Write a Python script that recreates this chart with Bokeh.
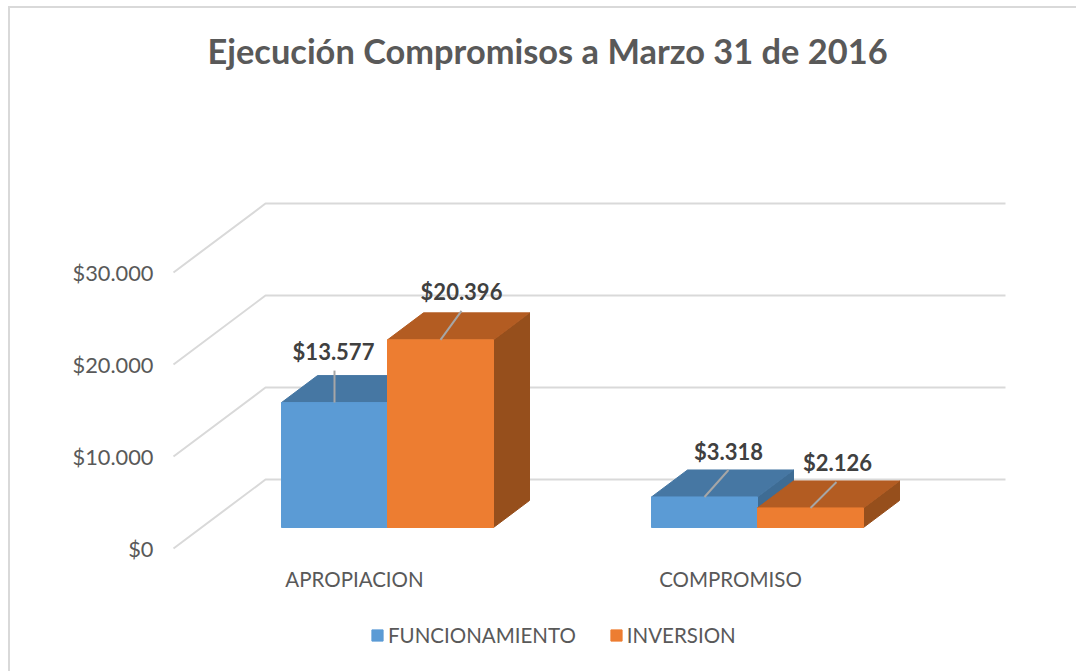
from bokeh.plotting import figure
from bokeh.embed import file_html
from bokeh.resources import INLINE
from bokeh.core.properties import value
from bokeh.models import FixedTicker, Legend, LegendItem, Range1d, Title

categories = ["APROPIACION", "COMPROMISO"]
funcionamiento = [13577, 3318]
inversion = [20396, 2126]
y_ticks = [0, 10000, 20000, 30000]
y_tick_labels = ["$0", "$10.000", "$20.000", "$30.000"]
fmt_labels = {13577: "$13.577", 20396: "$20.396", 3318: "$3.318", 2126: "$2.126"}

PX = 0.0092           # pixels per unit of value
WALL_X0, WALL_DX, WALL_DY = 173, 92, 69
WALL_LEN = 740
BAR_OFFSET_DY = 21
BAR_DX, BAR_DY = 36, 27
BAR_W = 106
GROUP_X = [387, 757]
CAT_X = [354, 730]
CAT_Y_PX = 578

def v_at(v, depth_px):
    return v + depth_px / PX

W, H = 1076, 671
FRAME_TOP, FRAME_BOTTOM = 190, H
FRAME_LEFT = 160

p = figure(width=W, height=H, output_backend="svg", toolbar_location=None,
           x_axis_location=None,
           x_range=Range1d(FRAME_LEFT, W),
           y_range=Range1d((548 - FRAME_BOTTOM) / PX, (548 - FRAME_TOP) / PX),
           frame_width=W - FRAME_LEFT, frame_height=FRAME_BOTTOM - FRAME_TOP,
           min_border_left=FRAME_LEFT, min_border_right=0,
           min_border_top=FRAME_TOP, min_border_bottom=0,
           outline_line_color=None, border_fill_color=None, background_fill_color=None)
p.styles = {"background":
            "linear-gradient(#d9d9d9,#d9d9d9) 8px 6px/2px 100% no-repeat,"
            "linear-gradient(#d9d9d9,#d9d9d9) 8px 6px/100% 2px no-repeat,#ffffff"}
p.grid.visible = False

FONT = "Lato"
p.title = None
p.add_layout(Title(text=" ", text_font=FONT, text_font_size="98px", standoff=0), "above")
p.add_layout(Title(text="Ejecución Compromisos a Marzo 31 de 2016", text_font=FONT,
                   text_font_size="34.4px", text_font_style="bold", text_color="#595959",
                   align="left", offset=47, standoff=0), "above")

ax = p.yaxis[0]
ax.ticker = FixedTicker(ticks=y_ticks)
ax.major_label_overrides = dict(zip(y_ticks, y_tick_labels))
ax.axis_line_color = None
ax.major_tick_line_color = None
ax.minor_tick_line_color = None
ax.major_label_text_font = FONT
ax.major_label_text_font_size = "21.8px"
ax.major_label_text_color = "#595959"
ax.major_label_standoff = 1

# category labels
p.text(CAT_X, [(548 - CAT_Y_PX) / PX] * len(CAT_X), text=categories, text_font=value(FONT),
       text_font_size="20.5px", text_color="#595959", text_align="center", text_baseline="middle")

# gridlines: back wall and floor diagonals
for t in y_ticks:
    p.line([WALL_X0, WALL_X0 + WALL_DX, WALL_X0 + WALL_DX + WALL_LEN],
           [t, v_at(t, WALL_DY), v_at(t, WALL_DY)], line_color="#d9d9d9", line_width=2)

def box(x0, v):
    x1 = x0 + BAR_W
    d0, d1 = BAR_OFFSET_DY, BAR_OFFSET_DY + BAR_DY
    front = ([x0, x1, x1, x0], [v_at(0, d0), v_at(0, d0), v_at(v, d0), v_at(v, d0)])
    top = ([x0, x1, x1 + BAR_DX, x0 + BAR_DX], [v_at(v, d0), v_at(v, d0), v_at(v, d1), v_at(v, d1)])
    side = ([x1, x1 + BAR_DX, x1 + BAR_DX, x1], [v_at(0, d0), v_at(0, d1), v_at(v, d1), v_at(v, d0)])
    return front, top, side

def draw(faces, col):
    for (xs, ys), c in zip(faces, col):
        r = p.patch(xs, ys, fill_color=c, line_color=c, line_width=1)
    return r

BLUE = ("#3e6c94", "#4677a3", "#5b9bd5")
ORANGE = ("#964f1c", "#b35c22", "#ed7d31")
r_blue = r_orange = None
for gx, f, i in zip(GROUP_X, funcionamiento, inversion):
    fr, tp, sd = box(gx - BAR_W, f)
    r_blue = draw((sd, tp, fr), BLUE)
    fr, tp, sd = box(gx, i)
    r_orange = draw((sd, tp, fr), ORANGE)

# leader lines and value labels
leaders = [(GROUP_X[0] - BAR_W / 2, funcionamiento[0], 0, 32, 333, 351),
           (GROUP_X[0] + BAR_W / 2, inversion[0], 21, 29, 461, 291),
           (GROUP_X[1] - BAR_W / 2, funcionamiento[1], 24, 27, 728, 451),
           (GROUP_X[1] + BAR_W / 2, inversion[1], 26, 26, 837, 462)]
for (cx, v, dx, dy, tx, ty) in leaders:
    p.line([cx, cx + dx], [v_at(v, BAR_OFFSET_DY), v_at(v, BAR_OFFSET_DY + dy)],
           line_color="#a6a6a6", line_width=2)
    p.text([tx], [(548 - ty) / PX], text=[fmt_labels[v]], text_font=value(FONT),
           text_font_size="22px", text_font_style="bold", text_color="#404040",
           text_align="center", text_baseline="middle")

legend = Legend(items=[LegendItem(label="FUNCIONAMIENTO", renderers=[r_blue]),
                       LegendItem(label="INVERSION", renderers=[r_orange])],
                orientation="horizontal", location=(210, 24), border_line_color=None,
                background_fill_alpha=0, label_text_font=FONT, label_text_font_size="20.5px",
                label_text_color="#595959", glyph_width=14, glyph_height=14,
                label_standoff=4, spacing=33, margin=0, padding=0)
p.add_layout(legend, "center")

open("out.html", "w").write(file_html(p, INLINE))
